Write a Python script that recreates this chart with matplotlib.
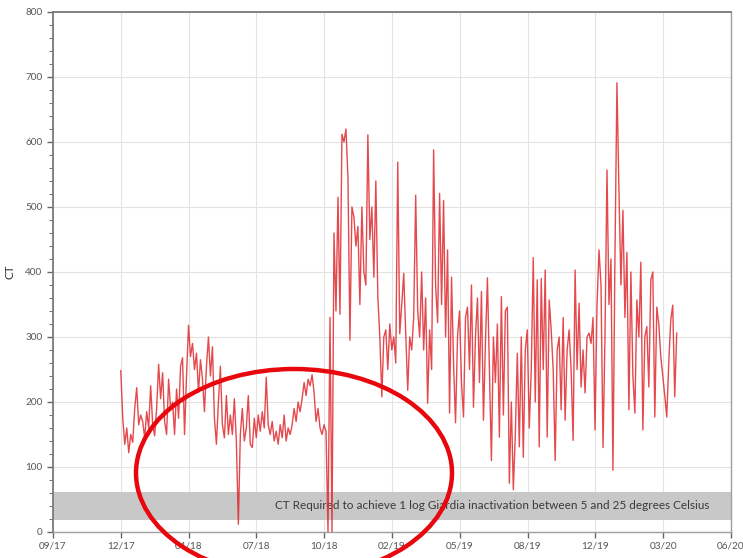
import numpy as np
import matplotlib
matplotlib.use("Agg")
import matplotlib.pyplot as plt
from matplotlib.patches import Ellipse

plt.rcParams['font.family'] = ['Lato', 'DejaVu Sans']

# Day offsets along the time axis; tick labels mark every 100 days
tick_days = [0, 100, 200, 300, 400, 500, 600, 700, 800, 900, 1000]
tick_labels = ["09/17", "12/17", "04/18", "07/18", "10/18", "02/19",
               "05/19", "08/19", "12/19", "03/20", "06/20"]

first_day = 100
last_day = 920

# CT readings, Dec 2017 to Oct 2018 (lower chlorine contact period)
ct_2018 = [
    248, 175, 135, 160, 122, 150,
    138, 190, 222, 165, 180,
    170, 145, 185, 160, 225,
    165, 148, 190, 258, 205,
    245, 170, 150, 235, 190,
    200, 150, 220, 175, 255,
    268, 150, 240, 318, 270,
    290, 250, 275, 215, 265,
    235, 185, 255, 300, 240,
    285, 175, 135, 200, 255,
    165, 145, 210, 150, 180,
    150, 205, 140, 12, 150,
    190, 140, 160, 210, 135,
    130, 175, 145, 180, 155,
    185, 160, 238, 165, 150,
    170, 140, 155, 135, 165,
    145, 180, 140, 160, 150,
    165, 190, 170, 200, 185,
    205, 230, 210, 235, 225,
    242, 215, 170, 190, 160,
    150, 165, 155,
    0, 330, 0,
]

# CT readings, Oct 2018 to Mar 2020
ct_2019_20 = [
    460, 340, 515, 335, 612,
    600, 620, 546, 295, 500,
    485, 440, 470, 350, 500,
    400, 380, 611, 450, 500,
    392, 540, 362, 300, 208,
    300, 311, 250, 320, 280,
    300, 260, 569, 305, 350,
    398, 305, 218, 300, 280,
    330, 518, 341, 300, 400,
    280, 360, 198, 311, 250,
    588, 380, 322, 521, 350,
    510, 300, 434, 183, 392,
    260, 168, 300, 340, 229,
    177, 330, 346, 250, 380,
    192, 300, 360, 230, 370,
    172, 290, 391, 250, 110,
    300, 230, 320, 146, 362,
    180, 340, 346, 75, 200,
    65, 150, 275, 131, 300,
    115, 280, 311, 160, 250,
    422, 200, 388, 131, 390,
    250, 403, 146, 357, 311,
    250, 110, 280, 300, 188,
    330, 172, 280, 311, 250,
    141, 403, 250, 352, 223,
    280, 214, 300, 306, 290,
    330, 157, 350, 434, 380,
    130, 300, 557, 350, 420,
    95, 423, 691, 526, 380,
    495, 330, 430, 188, 400,
    240, 183, 357, 300, 415,
    157, 300, 316, 223, 388,
    400, 177, 346, 320, 270,
    240, 210, 177, 260, 326,
    349, 208, 306,
]

# Required CT range for 1-log Giardia inactivation (5-25 degC)
band_low = 18
band_high = 62
band_text = "CT Required to achieve 1 log Giardia inactivation between 5 and 25 degrees Celsius"

ct = np.array(ct_2018 + ct_2019_20, dtype=float)
days = np.linspace(first_day, last_day, len(ct))

fig = plt.figure(figsize=(7.43, 5.58), dpi=100)
ax = fig.add_axes([0.0713, 0.0466, 0.9125, 0.9319])

ax.axhspan(band_low, band_high, color="#c8c8c8", zorder=1, lw=0)
ax.text(0.968, (band_low + band_high) / 2, band_text, ha="right", va="center",
        fontsize=8.5, color="#3a3a3a", zorder=2,
        transform=ax.get_yaxis_transform())

ax.plot(days, ct, color="#e0292e", lw=1.0, alpha=0.85, zorder=3)

ax.set_xlim(0, 1000)
ax.set_ylim(0, 800)
ax.set_xticks(tick_days)
ax.set_xticklabels(tick_labels)
ax.set_yticks(np.arange(0, 801, 100))
ax.set_yticks(np.arange(0, 801, 20), minor=True)
ax.set_ylabel("CT", fontsize=8.5, color="#333333")
ax.yaxis.set_label_coords(-0.056, 0.5)

ax.grid(True, which="major", color="#e3e3e3", lw=0.8, zorder=0)
ax.set_axisbelow(True)
for side in ["left", "top"]:
    ax.spines[side].set_color("#7a7a7a")
    ax.spines[side].set_linewidth(1.3)
for side in ["right", "bottom"]:
    ax.spines[side].set_color("#a0a0a0")
    ax.spines[side].set_linewidth(1.0)

ax.tick_params(axis="both", which="major", labelsize=7.2, colors="#666666",
               labelcolor="#555555", length=4, width=1)
ax.tick_params(axis="y", which="minor", length=3, width=0.8, colors="#777777")
ax.tick_params(axis="x", pad=3)

# Highlight ring around the 2018 period
ring = Ellipse((294 / 743, 1 - 473 / 558), 316 / 743, 208 / 558,
               transform=fig.transFigure, fill=False, edgecolor="#e8070c",
               lw=3.2, zorder=10, clip_on=False)
fig.patches.append(ring)

fig.savefig("out.png", dpi=100)
